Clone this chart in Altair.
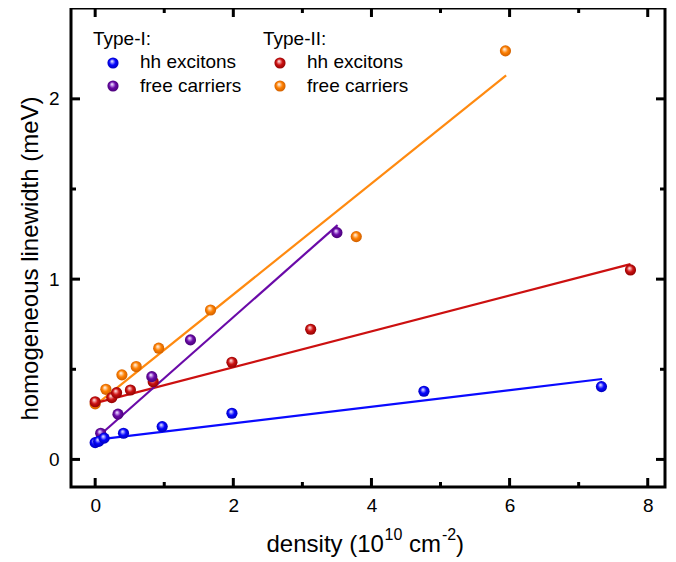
import altair as alt
import pandas as pd

# ---------------- data ----------------
blue_x = [0.00, 0.05, 0.13, 0.41, 0.97, 1.98, 4.76, 7.33]
blue_y = [0.093, 0.100, 0.118, 0.145, 0.182, 0.256, 0.378, 0.404]
purple_x = [0.08, 0.33, 0.82, 1.38, 3.50]
purple_y = [0.145, 0.251, 0.459, 0.663, 1.258]
red_x = [0.00, 0.24, 0.31, 0.51, 0.84, 1.98, 3.12, 7.75]
red_y = [0.320, 0.343, 0.370, 0.385, 0.431, 0.539, 0.722, 1.051]
orange_x = [0.00, 0.155, 0.387, 0.594, 0.92, 1.67, 3.78, 5.94]
orange_y = [0.308, 0.389, 0.469, 0.515, 0.617, 0.829, 1.236, 2.266]

# linear fits (end points)
blue_fit_x = [0.0, 7.34]
blue_fit_y = [0.108, 0.446]
purple_fit_x = [0.0, 3.51]
purple_fit_y = [0.112, 1.300]
red_fit_x = [0.0, 7.75]
red_fit_y = [0.312, 1.083]
orange_fit_x = [0.0, 5.95]
orange_fit_y = [0.300, 2.130]

x_major = [0, 2, 4, 6, 8]
x_minor = [1, 3, 5, 7]
y_major = [0, 1, 2]
y_minor = [0.5, 1.5]

W, H = 594, 479
FONT = "Liberation Sans"

colors = {
    "blue": ("#0505ff", "#9090ff", "#0000b0"),
    "purple": ("#6a0aa8", "#c090e8", "#440070"),
    "red": ("#cc1111", "#f09090", "#880000"),
    "orange": ("#ff8000", "#ffc890", "#c85a00"),
}
line_colors = {"blue": "#0a0aff", "purple": "#6a0aa8", "red": "#cc1010", "orange": "#ff8a10"}

def grad(name):
    base, light, dark = colors[name]
    return alt.RadialGradient(
        gradient="radial",
        x1=0.4, y1=0.33, r1=0.0,
        x2=0.5, y2=0.5, r2=0.55,
        stops=[
            alt.GradientStop(offset=0.0, color="#ffffff"),
            alt.GradientStop(offset=0.22, color=light),
            alt.GradientStop(offset=0.5, color=base),
            alt.GradientStop(offset=1.0, color=dark),
        ],
    )

xscale = alt.Scale(domain=[-0.35, 8.25], nice=False, zero=False)
yscale = alt.Scale(domain=[-0.153, 2.504], nice=False, zero=False)

xaxis = alt.Axis(
    values=x_major, ticks=False, domain=False, grid=False,
    labelFont=FONT, labelFontSize=19, labelColor="black", labelPadding=9,
    title=None,
)
yaxis = alt.Axis(
    values=y_major, ticks=False, domain=False, grid=False,
    labelFont=FONT, labelFontSize=19, labelColor="black", labelPadding=12,
    title="homogeneous linewidth (meV)", titleFont=FONT, titleFontSize=24,
    titleFontWeight="normal", titleColor="black", titleBaseline="alphabetic",
    titleX=-34, titleY=250, titleAngle=270,
)

X = alt.X("x:Q", scale=xscale, axis=xaxis)
Y = alt.Y("y:Q", scale=yscale, axis=yaxis)

series = [
    ("orange", orange_x, orange_y, orange_fit_x, orange_fit_y),
    ("red", red_x, red_y, red_fit_x, red_fit_y),
    ("purple", purple_x, purple_y, purple_fit_x, purple_fit_y),
    ("blue", blue_x, blue_y, blue_fit_x, blue_fit_y),
]

layers = []
# fit lines
for name, xs, ys, fx, fy in series:
    df = pd.DataFrame({"x": fx, "y": fy})
    layers.append(
        alt.Chart(df).mark_line(color=line_colors[name], strokeWidth=2.2).encode(x=X, y=Y)
    )
# points
for name, xs, ys, fx, fy in series:
    df = pd.DataFrame({"x": xs, "y": ys})
    layers.append(
        alt.Chart(df).mark_circle(size=125, opacity=1, fill=grad(name), stroke="transparent").encode(x=X, y=Y)
    )

# inward ticks on all four sides
def xticks(vals, length):
    df = pd.DataFrame({"x": vals})
    bot = alt.Chart(df).mark_rule(color="black", strokeWidth=3).encode(
        x=X, y=alt.value(H), y2=alt.value(H - length))
    top = alt.Chart(df).mark_rule(color="black", strokeWidth=3).encode(
        x=X, y=alt.value(0), y2=alt.value(length))
    return [bot, top]

def yticks(vals, length):
    df = pd.DataFrame({"y": vals})
    left = alt.Chart(df).mark_rule(color="black", strokeWidth=3).encode(
        y=Y, x=alt.value(0), x2=alt.value(length))
    right = alt.Chart(df).mark_rule(color="black", strokeWidth=3).encode(
        y=Y, x=alt.value(W), x2=alt.value(W - length))
    return [left, right]

layers += xticks(x_major, 9) + xticks(x_minor, 5) + yticks(y_major, 9) + yticks(y_minor, 5)

one = pd.DataFrame({"k": [0]})
def txt(s, px, py, size=19):
    return alt.Chart(one).mark_text(
        text=s, align="left", baseline="alphabetic", font=FONT, fontSize=size, color="black"
    ).encode(x=alt.value(px), y=alt.value(py))

def dot(name, px, py):
    return alt.Chart(one).mark_circle(size=125, opacity=1, fill=grad(name), stroke="transparent").encode(
        x=alt.value(px), y=alt.value(py))

# x-axis title with real superscripts: density (10^10 cm^-2)
layers += [
    txt("density (10", 195.5, 543.5, 24),
    txt("10", 313.5, 532, 16),
    txt("cm", 338.0, 543.5, 24),
    txt("-2", 371.0, 532, 16),
    txt(")", 385.0, 543.5, 24),
]

# legend
layers += [
    txt("Type-I:", 22, 37),
    dot("blue", 42, 55), txt("hh excitons", 69, 60),
    dot("purple", 42, 78), txt("free carriers", 69, 84),
    txt("Type-II:", 192, 37),
    dot("red", 209, 55), txt("hh excitons", 236, 60),
    dot("orange", 209, 78), txt("free carriers", 236, 84),
]

chart = alt.layer(*layers).properties(
    width=W, height=H,
    autosize=alt.AutoSizeParams(type="none"),
    padding={"left": 63, "top": 0, "right": 3, "bottom": 70},
).configure_view(stroke="black", strokeWidth=3)

chart.save("out.html", embed_options={"renderer": "svg", "actions": False})
